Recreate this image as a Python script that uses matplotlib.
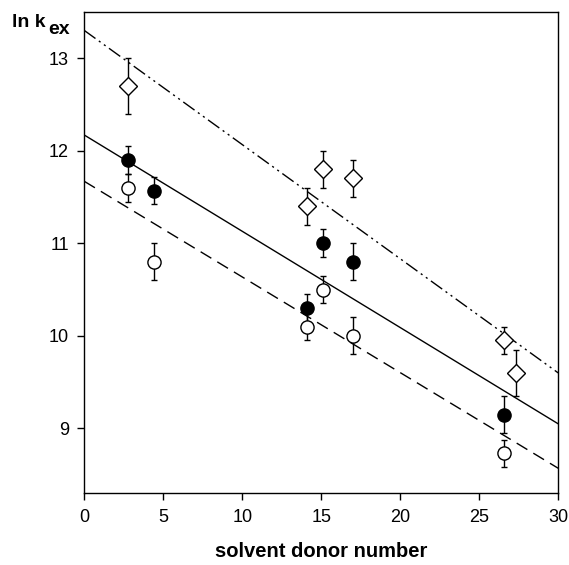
import numpy as np
import matplotlib
matplotlib.use('Agg')
import matplotlib.pyplot as plt

plt.rcParams['font.family'] = ['Liberation Sans', 'DejaVu Sans']

# open diamonds
dia_x = [2.8, 14.1, 15.1, 17.0, 26.6, 27.3]
dia_y = [12.7, 11.4, 11.8, 11.7, 9.95, 9.6]
dia_e = [0.3, 0.2, 0.2, 0.2, 0.15, 0.25]

# filled circles
fil_x = [2.8, 4.4, 14.1, 15.1, 17.0, 26.6]
fil_y = [11.9, 11.57, 10.3, 11.0, 10.8, 9.15]
fil_e = [0.15, 0.15, 0.15, 0.15, 0.2, 0.2]

# open circles
opn_x = [2.8, 4.4, 14.1, 15.1, 17.0, 26.6]
opn_y = [11.6, 10.8, 10.1, 10.5, 10.0, 8.73]
opn_e = [0.15, 0.2, 0.15, 0.15, 0.2, 0.15]

# fitted lines: (intercept at 0, value at 30)
line_x = [0, 30]
fit_dia = [13.3, 9.6]
fit_fil = [12.17, 9.05]
fit_opn = [11.67, 8.57]

fig = plt.figure(figsize=(5.69, 5.65), dpi=100)
ax = fig.add_axes([0.148, 0.127, 0.833, 0.852])

ax.plot(line_x, fit_dia, color='black', lw=1, dashes=[10, 3, 1.5, 3, 1.5, 3])
ax.plot(line_x, fit_fil, color='black', lw=1)
ax.plot(line_x, fit_opn, color='black', lw=1, dashes=[9, 5])

ekw = dict(fmt='none', ecolor='black', elinewidth=1, capsize=2, capthick=1)
ax.errorbar(dia_x, dia_y, yerr=dia_e, **ekw)
ax.errorbar(fil_x, fil_y, yerr=fil_e, **ekw)
ax.errorbar(opn_x, opn_y, yerr=opn_e, **ekw)

ax.plot(dia_x, dia_y, 'D', ms=9.5, mfc='white', mec='black', mew=1, ls='none')
ax.plot(fil_x, fil_y, 'o', ms=9.5, mfc='black', mec='black', mew=1, ls='none')
ax.plot(opn_x, opn_y, 'o', ms=9.5, mfc='white', mec='black', mew=1, ls='none')

ax.set_xlim(0, 30)
ax.set_ylim(8.3, 13.5)
ax.set_xticks([0, 5, 10, 15, 20, 25, 30])
ax.set_yticks([9, 10, 11, 12, 13])
ax.tick_params(direction='out', length=5, width=1, labelsize=13, pad=6)
for s in ax.spines.values():
    s.set_linewidth(1)

ax.set_xlabel('solvent donor number', fontsize=14.5, fontweight='bold', labelpad=12)
fig.text(0.021, 0.952, 'ln k', fontsize=14, fontweight='bold',
         ha='left', va='baseline')
fig.text(0.084, 0.940, 'ex', fontsize=14, fontweight='bold',
         ha='left', va='baseline')

fig.savefig('out.png', dpi=100)
